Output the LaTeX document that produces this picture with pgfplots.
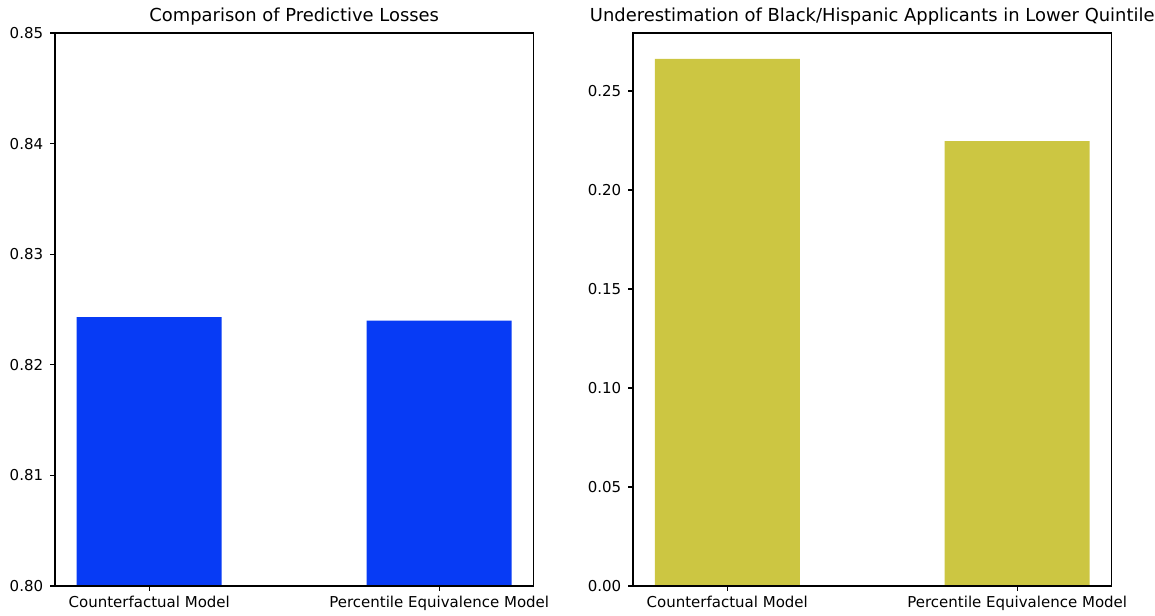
\documentclass[border=0pt]{standalone}
\usepackage{fontspec}
\setmainfont{DejaVu Sans}
\usepackage{pgfplots}
\pgfplotsset{compat=1.18}
\definecolor{barblue}{RGB}{7,59,245}
\definecolor{barolive}{RGB}{204,198,66}
% 1 px of the reference = 0.72pt here
\pgfplotsset{mplbar/.style={
  scale only axis, width=344.5pt, height=398.16pt,
  ybar, bar width=0.5,
  xmin=-0.325, xmax=1.325,
  xtick={0,1},
  xticklabels={Counterfactual Model, Percentile Equivalence Model},
  tick align=outside, tick pos=left, major tick length=3.5pt,
  axis line style={line width=0.8pt},
  every tick/.style={black, line width=0.8pt},
  tick label style={font=\fontsize{10.8}{13}\selectfont},
  yticklabel style={xshift=-1.5pt},
  title style={font=\fontsize{12.9}{15}\selectfont, at={(0.5,1)}, anchor=base, yshift=2pt},
  /pgf/number format/assume math mode=true,
  yticklabel style={/pgf/number format/.cd, fixed, fixed zerofill, precision=2},
  axis on top,
}}
\begin{document}
\begin{tikzpicture}
\path[use as bounding box] (0,0) rectangle (831.6pt,442.8pt);
\begin{axis}[mplbar, at={(39.6pt,20.88pt)}, anchor=south west,
  ymin=0.80, ymax=0.85,
  ytick={0.80,0.81,0.82,0.83,0.84,0.85},
  title={Comparison of Predictive Losses}]
\addplot[fill=barblue, draw=none] coordinates {(0,0.8243) (1,0.8240)};
\end{axis}
\begin{axis}[mplbar, at={(455.76pt,20.88pt)}, anchor=south west,
  ymin=0, ymax=0.2793,
  ytick={0,0.05,0.10,0.15,0.20,0.25},
  title={Underestimation of Black/Hispanic Applicants in Lower Quintile}]
\addplot[fill=barolive, draw=none] coordinates {(0,0.2662) (1,0.2247)};
\end{axis}
\end{tikzpicture}
\end{document}
